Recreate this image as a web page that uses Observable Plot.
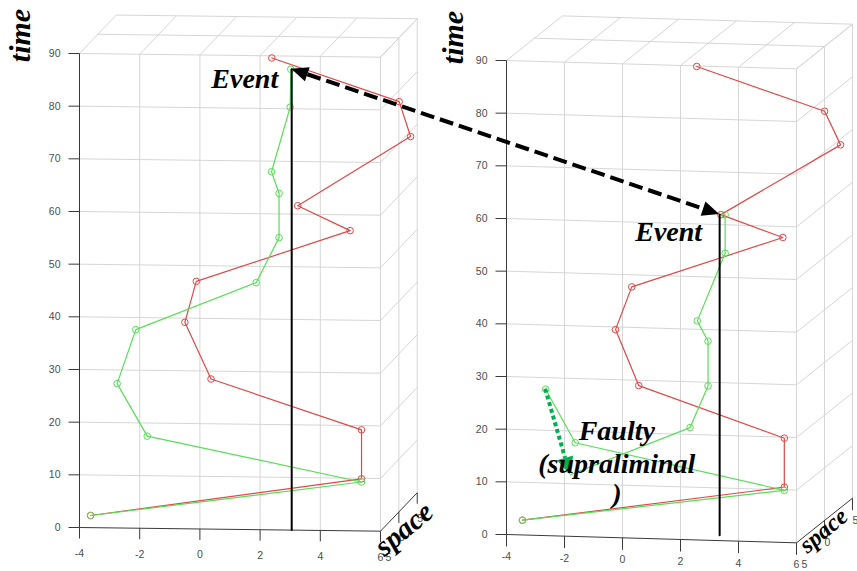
<!DOCTYPE html>
<html><head><meta charset="utf-8">
<script src="https://cdn.jsdelivr.net/npm/d3@7"></script>
<script src="https://cdn.jsdelivr.net/npm/@observablehq/plot@0.6"></script>
<style>
body{margin:0;background:#fff;}
#wrap{position:relative;width:857px;height:571px;overflow:hidden;background:#fff;}
#left,#right{position:absolute;top:0;}
#left{left:0;} #right{left:430px;}
</style></head><body>
<div id="wrap"><div id="left"></div><div id="right"></div></div>
<script>
// ---------- data ----------
const tTicks = [0,10,20,30,40,50,60,70,80,90];
const xTicks = [-4,-2,0,2,4,6];
const xGrid = [-2,0,2,4,6];
const depthLevels = [0,0.5,1];
const depthTickLabels = ["5","0","5"];

// left panel
const leftRedX   = [-3.63, 5.37, 5.37, 0.37, -0.50, -0.12, 4.99, 3.25, 7.00, 6.62, 2.39];
const leftRedT   = [2.3, 9.9, 19.2, 28.5, 39.2, 47.0, 57.0, 61.6, 75.0, 81.6, 89.6];
const leftGreenX = [-3.63, 5.37, -1.75, -2.75, -2.13, 1.87, 2.63, 2.63, 2.38, 3.00, 3.02];
const leftGreenT = [2.3, 9.3, 17.5, 27.4, 37.7, 46.9, 55.5, 63.9, 68.0, 80.3, 87.5];
const leftEventX = 3.05;
const leftEventT = [0, 87.5];

// right panel
const rightRedX    = [-3.45, 5.58, 5.58, 0.56, -0.24, 0.32, 5.53, 3.39, 7.52, 6.97, 2.56];
const rightRedT    = [2.8, 10.5, 19.8, 29.0, 39.5, 47.7, 57.9, 61.9, 75.8, 82.1, 89.9];
const rightGreenAX = [-3.45, 5.58, -1.63, -2.65];
const rightGreenAT = [2.8, 9.9, 17.8, 27.8];
const rightGreenBX = [-1.8, 2.33, 2.95, 2.95, 2.58, 3.54, 3.54];
const rightGreenBT = [11.7, 21.3, 29.3, 37.8, 41.6, 54.6, 61.9];
const rightEventX = 3.35;
const rightEventT = [1.0, 61.9];

const RED = "#e04848", GREEN = "#58de58", GRID = "#d6d6d6", AXIS = "#3a3a3a", LABEL = "#4d4d4d";
const serif = "'Liberation Serif', 'Times New Roman', serif";
const sans = "'Liberation Sans', Arial, sans-serif";

function panel(cfg) {
  const P = (x, t, d = 0) => ({x: x + d * cfg.DX, y: t - cfg.S * (x + 4) + d * cfg.DT});
  const seg = (a, b) => ({x1: a.x, y1: a.y, x2: b.x, y2: b.y});
  const pxX = (cfg.width - cfg.ml - cfg.mr) / 10;
  const pxT = (cfg.height - cfg.mt - cfg.mb) / 90;
  const x0 = xTicks[0], x1 = xTicks[xTicks.length - 1], tTop = tTicks[tTicks.length - 1];
  const grid = [];
  tTicks.slice(1).forEach(t => grid.push(seg(P(x0, t), P(x1, t))));
  xGrid.forEach(x => grid.push(seg(P(x, 0), P(x, tTop))));
  tTicks.slice(1).forEach(t => grid.push(seg(P(x1, t), P(x1, t, 1))));
  depthLevels.slice(1).forEach(d => grid.push(seg(P(x1, 0, d), P(x1, tTop, d))));
  xTicks.forEach(x => grid.push(seg(P(x, tTop), P(x, tTop, 1))));
  depthLevels.slice(1).forEach(d => grid.push(seg(P(x0, tTop, d), P(x1, tTop, d))));
  const axes = [seg(P(x0, 0), P(x0, tTop)), seg(P(x0, 0), P(x1, 0)), seg(P(x1, 0), P(x1, 0, 1))];
  const yTickSegs = tTicks.map(t => { const a = P(x0, t); return seg(a, {x: a.x - cfg.yTick / pxX, y: a.y}); });
  const xTickSegs = xTicks.map(x => { const a = P(x, 0); return seg(a, {x: a.x, y: a.y - cfg.xTick / pxT}); });
  const dTickSegs = depthLevels.slice(1).map(d => { const a = P(x1, 0, d); return seg(a, {x: a.x, y: a.y - cfg.xTick / pxT}); });
  const pts = (X, T) => X.map((x, i) => P(x, T[i]));
  const red = pts(cfg.redX, cfg.redT);
  const greens = cfg.greens.map(([X, T]) => pts(X, T));
  const ev = [P(cfg.eventX, cfg.eventT[0]), P(cfg.eventX, cfg.eventT[1])];
  const linkOpts = {x1: "x1", y1: "y1", x2: "x2", y2: "y2"};
  const marks = [
    Plot.link(grid, {...linkOpts, stroke: GRID, strokeWidth: 1}),
    Plot.link(axes, {...linkOpts, stroke: AXIS, strokeWidth: 1}),
    Plot.link(yTickSegs, {...linkOpts, stroke: AXIS, strokeWidth: 1}),
    Plot.link(xTickSegs, {...linkOpts, stroke: AXIS, strokeWidth: 1}),
    Plot.link(dTickSegs, {...linkOpts, stroke: AXIS, strokeWidth: 1}),
    Plot.text(tTicks, {x: t => P(x0, t).x, y: t => P(x0, t).y, text: t => String(t), dx: -19, textAnchor: "end", fill: LABEL, fontSize: 10.5, fontFamily: sans}),
    Plot.text(xTicks, {x: x => P(x, 0).x, y: x => P(x, 0).y, text: x => String(x), dy: cfg.xLabelDy, fill: LABEL, fontSize: 10.5, fontFamily: sans}),
    Plot.text([0], {x: () => P(x1, 0, 0).x, y: () => P(x1, 0, 0).y, text: () => depthTickLabels[0], dx: 8, dy: cfg.xLabelDy, fill: LABEL, fontSize: 10.5, fontFamily: sans}),
    Plot.text(depthLevels.slice(1), {x: d => P(x1, 0, d).x, y: d => P(x1, 0, d).y, text: (d, i) => depthTickLabels[i + 1], dx: 3, dy: cfg.xLabelDy, fill: LABEL, fontSize: 10.5, fontFamily: sans}),
    Plot.line(red, {x: "x", y: "y", stroke: RED, strokeWidth: 1.2}),
    Plot.dot(red, {x: "x", y: "y", r: 3.3, stroke: RED, strokeWidth: 1, fill: "none"}),
    ...greens.map(g => Plot.line(g, {x: "x", y: "y", stroke: GREEN, strokeWidth: 1.2})),
    ...greens.map((g, i) => Plot.dot(cfg.greenHidden[i] ? g.slice(1) : g, {x: "x", y: "y", r: 3.3, stroke: GREEN, strokeWidth: 1, fill: "none"})),
    Plot.line(ev, {x: "x", y: "y", stroke: "black", strokeWidth: 2}),
    Plot.text(["time"], {x: () => P(x0, tTop).x, y: () => P(x0, tTop).y, text: d => d, dx: cfg.timeDx, dy: cfg.timeDy, rotate: -90, fontSize: 30, fontFamily: serif, fontStyle: "italic", fontWeight: "bold", fill: "black"}),
    Plot.text(["space"], {x: () => P(x1, 0, 0.5).x, y: () => P(x1, 0, 0.5).y, text: d => d, dx: cfg.spaceDx, dy: cfg.spaceDy, rotate: -40, fontSize: cfg.spaceSize, fontFamily: serif, fontStyle: "italic", fontWeight: "bold", fill: "black"})
  ];
  const plot = Plot.plot({
    width: cfg.width, height: cfg.height,
    marginLeft: cfg.ml, marginRight: cfg.mr, marginTop: cfg.mt, marginBottom: cfg.mb,
    x: {domain: [x0, x1], axis: null},
    y: {domain: [0, tTop], axis: null},
    style: {background: "transparent", overflow: "visible", color: LABEL},
    marks
  });
  return {plot, P};
}

const left = panel({
  width: 430, height: 571, ml: 79, mr: 50, mt: 53, mb: 44,
  S: 0.07, DX: 1.22, DT: 7.3, yTick: 11, xTick: 11, xLabelDy: 26,
  redX: leftRedX, redT: leftRedT, greens: [[leftGreenX, leftGreenT]], greenHidden: [false],
  eventX: leftEventX, eventT: leftEventT,
  timeDx: -59, timeDy: -18, spaceDx: 5, spaceDy: 17, spaceSize: 29
});
const right = panel({
  width: 427, height: 571, ml: 76, mr: 61, mt: 60, mb: 37,
  S: 0.158, DX: 1.93, DT: 8.47, yTick: 11, xTick: 12, xLabelDy: 22,
  redX: rightRedX, redT: rightRedT, greens: [[rightGreenAX, rightGreenAT], [rightGreenBX, rightGreenBT]], greenHidden: [false, true],
  eventX: rightEventX, eventT: rightEventT,
  timeDx: -53, timeDy: -23, spaceDx: -1, spaceDy: 10, spaceSize: 24
});
document.getElementById("left").append(left.plot);
document.getElementById("right").append(right.plot);

// ---------- overlay annotations ----------
const svg = d3.select("#wrap").append("svg").attr("width", 857).attr("height", 571)
  .style("position", "absolute").style("left", "0px").style("top", "0px").style("overflow", "visible");
function abs(pn, off, p) { return [off + pn.plot.scale("x").apply(p.x), pn.plot.scale("y").apply(p.y)]; }
function head(tip, from, len, half, color) {
  const a = Math.atan2(tip[1] - from[1], tip[0] - from[0]);
  const bx = tip[0] - len * Math.cos(a), by = tip[1] - len * Math.sin(a);
  const nx = -Math.sin(a) * half, ny = Math.cos(a) * half;
  svg.append("polygon").attr("points", [[tip[0], tip[1]], [bx + nx, by + ny], [bx - nx, by - ny]].map(q => q.join(",")).join(" ")).attr("fill", color);
  return [bx, by];
}
const L = abs(left, 0, left.P(leftEventX, leftEventT[1]));
const R = abs(right, 430, right.P(rightEventX, rightEventT[1]));
const bL = head(L, R, 17, 7.5, "black");
const bR = head(R, L, 17, 7.5, "black");
svg.append("line").attr("x1", bL[0]).attr("y1", bL[1]).attr("x2", bR[0]).attr("y2", bR[1])
  .attr("stroke", "black").attr("stroke-width", 4).attr("stroke-dasharray", "14,6");

const F = abs(right, 430, right.P(rightGreenAX[3], rightGreenAT[3]));
const H = abs(right, 430, right.P(rightGreenBX[0], rightGreenBT[0]));
const bH = head(H, F, 17, 8.5, "#00b050");
svg.append("line").attr("x1", F[0]).attr("y1", F[1]).attr("x2", bH[0]).attr("y2", bH[1])
  .attr("stroke", "#00b050").attr("stroke-width", 4).attr("stroke-dasharray", "4,3");

function label(x, y, txt, anchor) {
  svg.append("text").attr("x", x).attr("y", y).attr("text-anchor", anchor)
    .attr("font-family", serif).attr("font-style", "italic").attr("font-weight", "bold")
    .attr("font-size", 28).attr("fill", "black").text(txt);
}
label(L[0] - 13, L[1] + 19, "Event", "end");
label(R[0] - 17, R[1] + 27, "Event", "end");
label(H[0] + 47, H[1] - 34, "Faulty", "middle");
label(H[0] + 47, H[1] - 1, "(supraliminal", "middle");
label(H[0] + 47, H[1] + 29, ")", "middle");
</script>
</body></html>
